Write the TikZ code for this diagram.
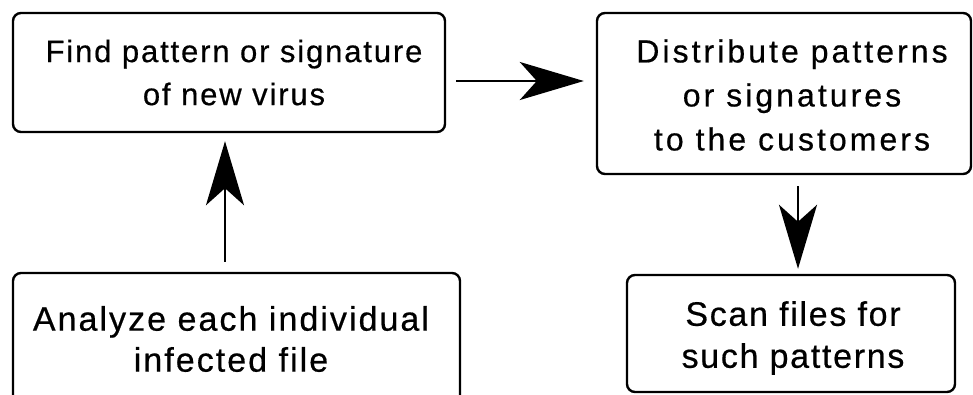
\documentclass[tikz,border=0pt]{standalone}
\usepackage{fontspec}
\setmainfont{Liberation Sans}[FakeBold=0.5]
\usetikzlibrary{arrows.meta}

\tikzset{
  stepbox/.style={draw=black, line width=2.4pt, rounded corners=8pt,
    inner sep=0pt, fill=white},
  steptext/.style={align=center, inner sep=0pt},
  flow/.style={line width=2.6pt,
    -{Stealth[length=64pt, width=38pt, inset=17pt]}},
}

\begin{document}
\begin{tikzpicture}[x=1pt, y=-1pt]
  \useasboundingbox (0,0) rectangle (973,394);
  \clip (0,0) rectangle (973,394);

  % process step frames
  \node[stepbox, minimum width=432pt, minimum height=119pt]
    (find) at (229,72.5) {};
  \node[stepbox, minimum width=374pt, minimum height=161pt]
    (distribute) at (784,93.5) {};
  \node[stepbox, minimum width=447pt, minimum height=132pt]
    (analyze) at (236.5,339) {};
  \node[stepbox, minimum width=328pt, minimum height=117pt]
    (scan) at (791,333.5) {};

  % step captions
  \node[steptext, font=\fontsize{31}{43}\selectfont\addfontfeatures{LetterSpace=6}]
    (findtext) at (234,72.5) {Find pattern or signature\\of new virus};
  \node[steptext, font=\fontsize{32}{44}\selectfont\addfontfeatures{LetterSpace=9.5}]
    (distributetext) at (792,95) {Distribute patterns\\or signatures\\to the customers};
  \node[steptext, font=\fontsize{34}{41}\selectfont\addfontfeatures{LetterSpace=6}]
    (analyzetext) at (231,339) {Analyze each individual\\infected file};
  \node[steptext, font=\fontsize{34}{42}\selectfont\addfontfeatures{LetterSpace=5}]
    (scantext) at (793,338) {Scan files for\\such patterns};

  % flow between the steps
  \draw[flow] ([xshift=-11.5pt, yshift=10pt]analyze.north)
           -- ([xshift=-4pt, yshift=-8pt]find.south);
  \draw[flow] ([xshift=10pt, yshift=-8.5pt]find.east)
           -- ([xshift=-12pt, yshift=12.5pt]distribute.west);
  \draw[flow] ([xshift=14pt, yshift=-11pt]distribute.south)
           -- ([xshift=7pt, yshift=5pt]scan.north);
\end{tikzpicture}
\end{document}
